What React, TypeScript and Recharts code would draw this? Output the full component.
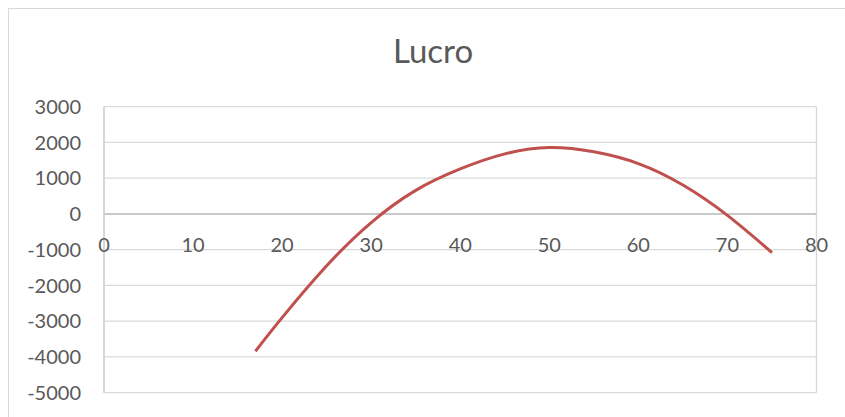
import React from 'react';
import {
  LineChart,
  Line,
  XAxis,
  YAxis,
  CartesianGrid,
  ReferenceLine,
  ReferenceDot,
} from 'recharts';

// Profit ("Lucro") as a function of quantity
const quantidades = [17, 20, 25, 30, 35, 40, 45, 50, 55, 60, 65, 70, 75];
const lucro = [-3840, -2900, -1450, -240, 660, 1260, 1680, 1860, 1740, 1410, 810, -40, -1080];

const xTicks = [0, 10, 20, 30, 40, 50, 60, 70, 80];
const yTicks = [-5000, -4000, -3000, -2000, -1000, 0, 1000, 2000, 3000];

const data = quantidades.map((x, i) => ({ x, lucro: lucro[i] }));

const FONT = 'Lato, "Open Sans", sans-serif';
const TEXT = '#595959';
const GRID = '#d9d9d9';

export default function App() {
  return (
    <div
      style={{
        position: 'absolute',
        left: 0,
        top: 0,
        width: 845,
        height: 417,
        overflow: 'hidden',
        background: '#fff',
      }}
    >
      {/* chart frame, continues past the visible area */}
      <div
        style={{
          position: 'absolute',
          left: 8,
          top: 8,
          width: 900,
          height: 500,
          border: `1.3px solid ${GRID}`,
          boxSizing: 'border-box',
        }}
      />
      <svg style={{ position: 'absolute', left: 0, top: 0 }} width={845} height={417}>
        <text x={433} y={63} textAnchor="middle" fontFamily={FONT} fontSize={33} fill={TEXT}>
          Lucro
        </text>
      </svg>
      <div style={{ position: 'absolute', left: 0, top: 0 }}>
        <LineChart
          width={845}
          height={417}
          data={data}
          margin={{ top: 106.7, right: 28.5, bottom: 24.3, left: 0 }}
        >
          <CartesianGrid stroke={GRID} strokeWidth={1.3} />
          <XAxis
            type="number"
            dataKey="x"
            domain={[0, 80]}
            ticks={xTicks}
            tick={false}
            axisLine={false}
            tickLine={false}
            height={0}
          />
          <YAxis
            type="number"
            domain={[-5000, 3000]}
            ticks={yTicks}
            interval={0}
            width={104}
            tickSize={0}
            tickMargin={23}
            tickLine={false}
            axisLine={{ stroke: '#cfcfcf', strokeWidth: 1.3 }}
            tick={{ fill: TEXT, fontSize: 20, fontFamily: FONT }}
          />
          <ReferenceLine y={0} stroke="#bfbfbf" strokeWidth={1.5} />
          {xTicks.map((t) => (
            <ReferenceDot
              key={t}
              x={t}
              y={0}
              r={0}
              ifOverflow="visible"
              fill="none"
              stroke="none"
              label={{
                value: String(t),
                position: 'bottom',
                offset: 24,
                fill: TEXT,
                fontSize: 20,
                fontFamily: FONT,
              }}
            />
          ))}
          <Line
            type="natural"
            dataKey="lucro"
            stroke="#c0504d"
            strokeWidth={3}
            dot={false}
            isAnimationActive={false}
          />
        </LineChart>
      </div>
    </div>
  );
}
